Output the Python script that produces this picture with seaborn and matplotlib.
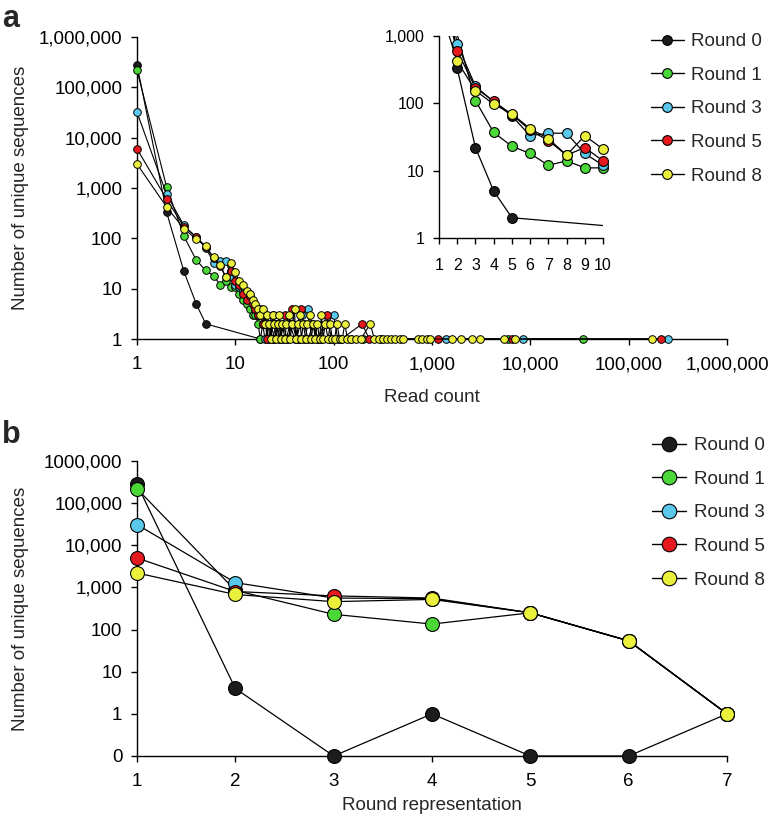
# Unique sequences vs read count (a) and vs round representation (b)

import numpy as np
import pandas as pd
import matplotlib
matplotlib.use("Agg")
import matplotlib.pyplot as plt
import seaborn as sns
from matplotlib.lines import Line2D

# -----------------------------
# Data
# -----------------------------
rounds = ["Round 0", "Round 1", "Round 3", "Round 5", "Round 8"]
colors = ["#1c1c1c", "#4bd737", "#5ac8eb", "#e6191e", "#ebf03c"]

# panel a: read count -> number of unique sequences
r0_count = [1, 2, 3, 4, 5, 18]
r0_seqs = [280000, 330, 22, 5, 2, 1]

r1_count = [1, 2, 3, 4, 5, 6, 7, 8, 9, 10, 11, 12, 13, 14, 15, 16, 17, 18, 19, 20,
            22, 23, 25, 27, 30, 33, 36, 40, 45, 50, 60, 75, 90, 120, 200, 5900, 34000]
r1_seqs = [220000, 1050, 110, 37, 23, 18, 12, 14, 11, 11, 8, 6, 5, 4, 3, 3, 2, 1, 2, 2,
           1, 2, 1, 2, 1, 1, 2, 1, 1, 1, 1, 1, 1, 1, 1, 1, 1]

r3_count = [1, 2, 3, 4, 5, 6, 7, 8, 9, 10, 11, 12, 13, 14, 15, 16, 17, 18, 19, 20,
            22, 24, 26, 28, 30, 34, 38, 42, 48, 55, 60, 70, 85, 100, 110, 150, 300,
            1400, 8500, 253000]
r3_seqs = [32000, 750, 180, 105, 65, 33, 36, 36, 18, 12, 11, 9, 7, 6, 5, 4, 3, 3, 2, 1,
           2, 3, 2, 1, 2, 1, 2, 1, 3, 4, 2, 1, 2, 3, 1, 1, 1, 1, 1, 1]

r5_count = [1, 2, 3, 4, 5, 6, 7, 8, 9, 10, 11, 12, 13, 14, 15, 16, 17, 18, 19, 20,
            21, 22, 24, 26, 29, 32, 35, 38, 42, 46, 50, 55, 62, 70, 85, 95, 120, 195,
            230, 1150, 6500, 214000]
r5_seqs = [6000, 600, 170, 108, 68, 40, 28, 17, 22, 14, 12, 8, 6, 7, 5, 4, 3, 4, 2, 3,
           1, 2, 1, 2, 1, 3, 2, 4, 1, 4, 2, 1, 2, 1, 3, 1, 1, 2, 1, 1, 1, 1]

r8_count = [1, 2, 3, 4, 5, 6, 7, 8, 9, 10, 11, 12, 13, 14, 15, 16, 17, 18, 19, 20,
            21, 22, 23, 24, 25, 26, 27, 28, 29, 30, 32, 33, 35, 36, 38, 40, 41, 43,
            45, 47, 49, 52, 54, 57, 59, 62, 65, 68, 72, 75, 78, 82, 88, 92, 97, 102,
            108, 115, 122, 130, 138, 150, 170, 190, 235, 260, 290, 320, 350, 380, 420,
            470, 510, 720, 800, 880, 950, 1600, 1950, 2550, 3100, 5400, 7000, 174000]
r8_seqs = [3000, 420, 155, 97, 70, 42, 30, 17, 33, 21, 14, 12, 9, 8, 6, 5, 4, 3, 4, 2,
           3, 2, 1, 3, 2, 1, 2, 3, 1, 2, 1, 2, 3, 1, 2, 4, 1, 2,
           3, 1, 2, 1, 2, 3, 1, 2, 1, 2, 1, 3, 1, 2, 1, 2, 1, 1,
           2, 1, 1, 2, 1, 1, 1, 1, 2, 1, 1, 1, 1, 1, 1,
           1, 1, 1, 1, 1, 1, 1, 1, 1, 1, 1, 1, 1]

counts_a = [r0_count, r1_count, r3_count, r5_count, r8_count]
seqs_a = [r0_seqs, r1_seqs, r3_seqs, r5_seqs, r8_seqs]

# panel b: number of rounds a sequence shows up in
representation = [1, 2, 3, 4, 5, 6, 7]
b_r0 = [280000, 4, 0, 1, 0, 0, 1]
b_r1 = [220000, 850, 230, 135, 250, 54, 1]
b_r3 = [31000, 1300, 560, 540, 250, 54, 1]
b_r5 = [5000, 800, 630, 560, 250, 54, 1]
b_r8 = [2200, 680, 460, 520, 250, 54, 1]
seqs_b = [b_r0, b_r1, b_r3, b_r5, b_r8]

# tick labels
a_ticks = [1, 10, 100, 1000, 10000, 100000, 1000000]
a_ticklabels = ["1", "10", "100", "1,000", "10,000", "100,000", "1,000,000"]
inset_yticks = [1, 10, 100, 1000]
inset_yticklabels = ["1", "10", "100", "1,000"]
inset_xticks = [1, 2, 3, 4, 5, 6, 7, 8, 9, 10]
b_yticks = [0, 1, 10, 100, 1000, 10000, 100000, 1000000]
b_yticklabels = ["0", "1", "10", "100", "1,000", "10,000", "100,000", "1000,000"]

df_a = pd.concat([pd.DataFrame({"round": r, "count": c, "seqs": s})
                  for r, c, s in zip(rounds, counts_a, seqs_a)])
df_b = pd.concat([pd.DataFrame({"round": r, "rep": representation, "seqs": s})
                  for r, s in zip(rounds, seqs_b)])

# -----------------------------
# Style
# -----------------------------
sns.set_style("ticks")
plt.rcParams["font.family"] = ["Liberation Sans", "DejaVu Sans"]
plt.rcParams["font.size"] = 13.5
plt.rcParams["axes.linewidth"] = 1.0

W, H = 773, 825
fig = plt.figure(figsize=(W / 100, H / 100), dpi=100)


def box(l, t, r, b):
    # pixel box -> figure fraction
    return [l / W, 1 - b / H, (r - l) / W, (b - t) / H]


def style_axes(ax, ylabpad=6, xlabpad=8, size=13.5, length=4.5):
    sns.despine(ax=ax)
    ax.tick_params(axis="y", direction="out", length=length, width=1, pad=ylabpad,
                   labelsize=size, colors="black", which="major")
    ax.tick_params(axis="x", direction="out", length=length, width=1, pad=xlabpad,
                   labelsize=size, colors="black", which="major")
    ax.tick_params(which="minor", length=0)
    for sp in ax.spines.values():
        sp.set_color("black")


# =============================
# Panel a: main
# =============================
ax_a = fig.add_axes(box(137, 37, 727, 339))
for i, r in enumerate(rounds):
    sub = df_a[df_a["round"] == r]
    sns.lineplot(data=sub, x="count", y="seqs", ax=ax_a, color="black", lw=0.8,
                 marker="o", markersize=5.5, markerfacecolor=colors[i],
                 markeredgecolor="black", markeredgewidth=0.7,
                 estimator=None, sort=False, clip_on=False, zorder=3 + i)
ax_a.set_xscale("log")
ax_a.set_yscale("log")
ax_a.set_xlim(1, 1000000)
ax_a.set_ylim(1, 1000000)
ax_a.set_xticks(a_ticks, a_ticklabels)
ax_a.set_yticks(a_ticks, a_ticklabels)
ax_a.minorticks_off()
style_axes(ax_a)
ax_a.set_xlabel("Read count", fontsize=13.5)
ax_a.set_ylabel("Number of unique sequences", fontsize=13.5)
ax_a.xaxis.set_label_coords(0.5, -0.165)
ax_a.yaxis.set_label_coords(-0.183, 0.5)

# inset: first ten read counts on a linear x axis
ax_in = fig.add_axes(box(439, 36, 603, 238))
for i, r in enumerate(rounds):
    sub = df_a[df_a["round"] == r]
    sns.lineplot(data=sub, x="count", y="seqs", ax=ax_in, color="black", lw=0.9,
                 estimator=None, sort=False, zorder=3)
for i, r in enumerate(rounds):
    sub = df_a[(df_a["round"] == r) & (df_a["count"] <= 10) & (df_a["seqs"] <= 1000)]
    sns.scatterplot(data=sub, x="count", y="seqs", ax=ax_in, color=colors[i],
                    edgecolor="black", linewidth=0.8, s=50, clip_on=False,
                    zorder=4 + i, legend=False)
ax_in.set_yscale("log")
ax_in.set_xlim(1, 10)
ax_in.set_ylim(1, 1000)
ax_in.set_xticks(inset_xticks, [str(v) for v in inset_xticks])
ax_in.set_yticks(inset_yticks, inset_yticklabels)
ax_in.minorticks_off()
style_axes(ax_in, ylabpad=6, xlabpad=10, size=11.5, length=4.5)
ax_in.set_xlabel("")
ax_in.set_ylabel("")

handles_a = [Line2D([0], [0], color="black", lw=1, marker="o", markersize=7,
                    markerfacecolor=c, markeredgecolor="black", markeredgewidth=0.8)
             for c in colors]
fig.legend(handles_a, rounds, loc="upper left", bbox_to_anchor=(651 / W, 1 - 33 / H),
           frameon=False, fontsize=13.5, handlelength=1.75, handletextpad=0.4,
           labelspacing=0.88, borderpad=0, borderaxespad=0)

# =============================
# Panel b
# =============================
def fwd(v):
    v = np.asarray(v, dtype=float)
    return np.where(v > 1, np.log10(np.maximum(v, 1)) + 1, v)


def inv(p):
    p = np.asarray(p, dtype=float)
    return np.where(p > 1, 10 ** (np.minimum(p, 20) - 1), p)


ax_b = fig.add_axes(box(137, 461, 727, 756))
for i, r in enumerate(rounds):
    sub = df_b[df_b["round"] == r]
    sns.lineplot(data=sub, x="rep", y="seqs", ax=ax_b, color="black", lw=0.9,
                 marker="o", markersize=10, markerfacecolor=colors[i],
                 markeredgecolor="black", markeredgewidth=0.8,
                 estimator=None, sort=False, clip_on=False, zorder=3 + i)
ax_b.set_yscale("function", functions=(fwd, inv))
ax_b.set_xlim(1, 7)
ax_b.set_ylim(0, 1000000)
ax_b.set_xticks(representation, [str(v) for v in representation])
ax_b.set_yticks(b_yticks, b_yticklabels)
ax_b.minorticks_off()
style_axes(ax_b)
ax_b.set_xlabel("Round representation", fontsize=13.5)
ax_b.set_ylabel("Number of unique sequences", fontsize=13.5)
ax_b.xaxis.set_label_coords(0.5, -0.14)
ax_b.yaxis.set_label_coords(-0.183, 0.5)

handles_b = [Line2D([0], [0], color="black", lw=1, marker="o", markersize=10.5,
                    markerfacecolor=c, markeredgecolor="black", markeredgewidth=0.8)
             for c in colors]
fig.legend(handles_b, rounds, loc="upper left", bbox_to_anchor=(652 / W, 1 - 437 / H),
           frameon=False, fontsize=13.5, handlelength=1.8, handletextpad=0.45,
           labelspacing=0.88, borderpad=0, borderaxespad=0)

# panel letters
fig.text(2 / W, 1 - 27 / H, "a", fontsize=22, fontweight="bold", va="baseline")
fig.text(2 / W, 1 - 443 / H, "b", fontsize=22, fontweight="bold", va="baseline")

fig.savefig("out.png", dpi=100)
